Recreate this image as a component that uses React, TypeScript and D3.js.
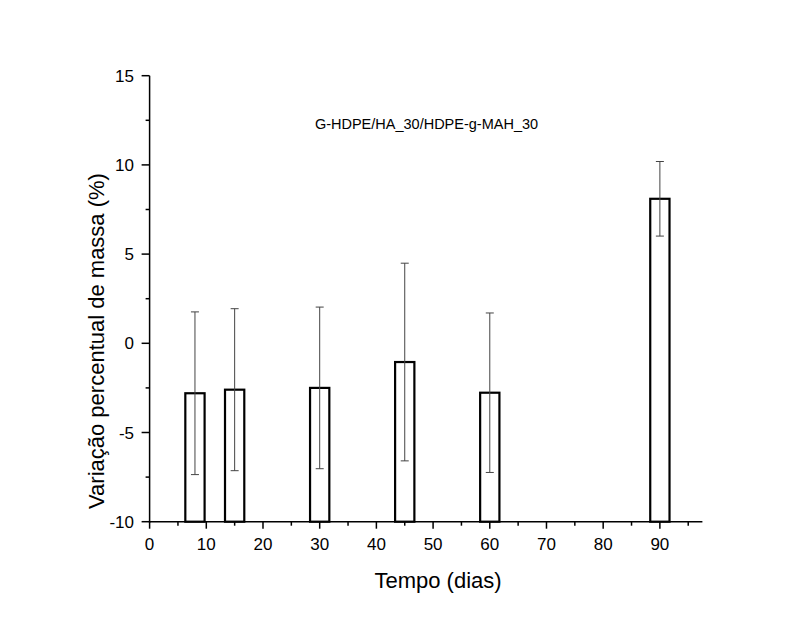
import React from "react";
import * as d3 from "d3";

const days = [8, 15, 30, 45, 60, 90];
const massChange = [-2.8, -2.6, -2.5, -1.05, -2.77, 8.1];
const errors = [4.56, 4.54, 4.53, 5.54, 4.47, 2.09];
const xMajorTicks = [0, 10, 20, 30, 40, 50, 60, 70, 80, 90];
const xMinorTicks = [5, 15, 25, 35, 45, 55, 65, 75, 85, 95];
const yMajorTicks = [-10, -5, 0, 5, 10, 15];
const yMinorTicks = [-7.5, -2.5, 2.5, 7.5, 12.5];
const title = "G-HDPE/HA_30/HDPE-g-MAH_30";
const xLabel = "Tempo (dias)";
const yLabel = "Variação percentual de massa (%)";

export default function App() {
  const x = d3.scaleLinear().domain([0, 97.5]).range([149.6, 702.4]);
  const y = d3.scaleLinear().domain([-10, 15]).range([521.7, 75.7]);
  const barW = x(3.4) - x(0);
  const font = "Arial, 'Liberation Sans', sans-serif";
  const y0 = y(-10);
  const x0 = x(0);
  return (
    <svg width={800} height={618} style={{ position: "absolute", left: 0, top: 0, background: "#fff" }}>
      <rect width={800} height={618} fill="#fff" />
      {/* bars */}
      {days.map((d, i) => (
        <rect key={"b" + i} x={x(d) - barW / 2} y={y(massChange[i])} width={barW}
          height={y0 - y(massChange[i])} fill="#fff" stroke="#000" strokeWidth={2.2} />
      ))}
      {/* error bars */}
      {days.map((d, i) => {
        const cx = x(d);
        const top = y(massChange[i] + errors[i]);
        const bot = y(massChange[i] - errors[i]);
        return (
          <g key={"e" + i} stroke="#444" strokeWidth={1}>
            <line x1={cx} x2={cx} y1={top} y2={bot} />
            <line x1={cx - 4} x2={cx + 4} y1={top} y2={top} />
            <line x1={cx - 4} x2={cx + 4} y1={bot} y2={bot} />
          </g>
        );
      })}
      {/* axes */}
      <line x1={x0} x2={x(97.5)} y1={y0} y2={y0} stroke="#000" strokeWidth={1.5} />
      <line x1={x0} x2={x0} y1={y(15)} y2={y0 + 1} stroke="#000" strokeWidth={1.5} />
      {xMajorTicks.map((t) => (
        <g key={"xt" + t}>
          <line x1={x(t)} x2={x(t)} y1={y0} y2={y0 + 7} stroke="#000" strokeWidth={1.5} />
          <text x={x(t)} y={550} textAnchor="middle" fontFamily={font} fontSize={17} fill="#000">{t}</text>
        </g>
      ))}
      {xMinorTicks.map((t) => (
        <line key={"xm" + t} x1={x(t)} x2={x(t)} y1={y0} y2={y0 + 4} stroke="#000" strokeWidth={1.5} />
      ))}
      {yMajorTicks.map((t) => (
        <g key={"yt" + t}>
          <line x1={x0 - 8} x2={x0} y1={y(t)} y2={y(t)} stroke="#000" strokeWidth={1.5} />
          <text x={134} y={y(t)} dy="0.36em" textAnchor="end" fontFamily={font} fontSize={17} fill="#000">{t}</text>
        </g>
      ))}
      {yMinorTicks.map((t) => (
        <line key={"ym" + t} x1={x0 - 4} x2={x0} y1={y(t)} y2={y(t)} stroke="#000" strokeWidth={1.5} />
      ))}
      {/* labels */}
      <text x={426.5} y={129.3} textAnchor="middle" fontFamily={font} fontSize={14.5} fill="#000">{title}</text>
      <text x={438} y={588} textAnchor="middle" fontFamily={font} fontSize={22} fill="#000">{xLabel}</text>
      <text transform="translate(104,341) rotate(-90)" textAnchor="middle" fontFamily={font} fontSize={22} fill="#000">{yLabel}</text>
    </svg>
  );
}
